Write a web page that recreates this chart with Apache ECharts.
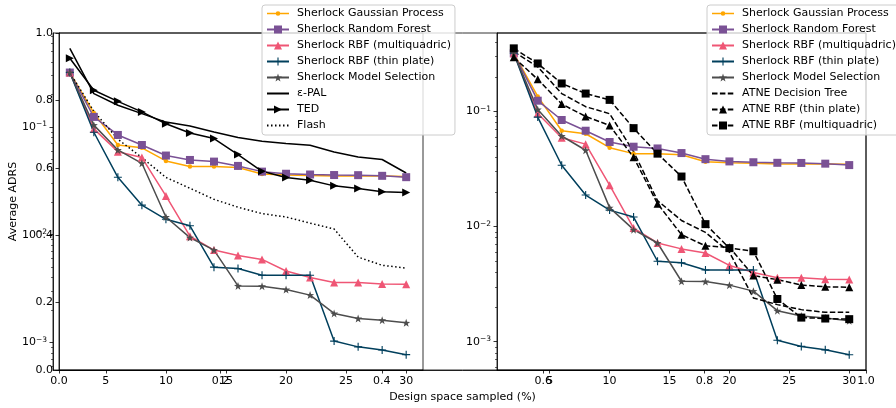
<!DOCTYPE html>
<html>
<head>
<meta charset="utf-8">
<script src="https://cdn.jsdelivr.net/npm/echarts@6/dist/echarts.min.js"></script>
<style>
  html, body { margin: 0; padding: 0; background: #fff; }
  #chart { width: 896px; height: 408px; }
</style>
</head>
<body>
<div id="chart"></div>
<script>
// design space sampled (%)
const xs = [2, 4, 6, 8, 10, 12, 14, 16, 18, 20, 22, 24, 26, 28, 30];

// Sherlock variants (same in both panels)
const gpVals    = [0.32, 0.135, 0.068, 0.064, 0.0484, 0.043, 0.043, 0.042, 0.0366, 0.0358, 0.0354, 0.035, 0.035, 0.035, 0.0347];
const rfVals    = [0.32, 0.124, 0.0843, 0.068, 0.0543, 0.0494, 0.0477, 0.0435, 0.0385, 0.0368, 0.0362, 0.0358, 0.0357, 0.0352, 0.0342];
const multiVals = [0.32, 0.096, 0.059, 0.052, 0.0229, 0.0097, 0.0072, 0.0064, 0.0059, 0.0046, 0.0040, 0.0036, 0.0036, 0.00348, 0.00347];
const thinVals  = [0.32, 0.0893, 0.0341, 0.0188, 0.0139, 0.0121, 0.0050, 0.00485, 0.0042, 0.0042, 0.0042, 0.00103, 0.00091, 0.00085, 0.00077];
const msVals    = [0.32, 0.104, 0.0612, 0.046, 0.0146, 0.0094, 0.0072, 0.00335, 0.00333, 0.0031, 0.00275, 0.00186, 0.00167, 0.00161, 0.00152];

// left panel baselines
const palVals   = [0.537, 0.204, 0.159, 0.133, 0.111, 0.102, 0.09, 0.0797, 0.0736, 0.0701, 0.0676, 0.0586, 0.0527, 0.0499, 0.0374];
const tedVals   = [0.434, 0.219, 0.173, 0.138, 0.107, 0.088, 0.078, 0.0555, 0.0388, 0.0339, 0.032, 0.0284, 0.0268, 0.025, 0.0246];
const flashVals = [0.32, 0.14, 0.077, 0.052, 0.034, 0.027, 0.0213, 0.018, 0.0157, 0.0146, 0.0128, 0.0113, 0.0062, 0.0052, 0.0049];

// right panel baselines
const dtVals        = [0.33, 0.244, 0.143, 0.11, 0.0955, 0.0447, 0.0168, 0.0113, 0.0089, 0.006, 0.0024, 0.0021, 0.0019, 0.0018, 0.0018];
const atneThinVals  = [0.295, 0.19, 0.116, 0.0905, 0.0756, 0.04, 0.0158, 0.0085, 0.0068, 0.0066, 0.00375, 0.00346, 0.00311, 0.003, 0.00297];
const atneMultiVals = [0.353, 0.261, 0.175, 0.143, 0.126, 0.0716, 0.043, 0.0272, 0.0105, 0.0065, 0.0061, 0.00235, 0.00162, 0.00159, 0.00157];

// tick labels
const xTicks = [5, 10, 15, 20, 25, 30];
const logTicks = [0.001, 0.01, 0.1];

const FONT = 'DejaVu Sans';
const FS = 11;
const PLUS = 'path://M4.3,0H5.7V4.3H10V5.7H5.7V10H4.3V5.7H0V4.3H4.3Z';
const STAR = 'path://M5,0L6.18,3.38L9.76,3.45L6.9,5.62L7.94,9.05L5,7L2.06,9.05L3.1,5.62L0.24,3.45L3.82,3.38Z';
// legend handle for the small-dot series: line with a little dot (box 22 x 10)
const DOT_HANDLE = 'path://M0,0M22,10M0,4.3H22V5.7H0Z M13.3,5A2.3,2.3,0,1,1,8.7,5A2.3,2.3,0,1,1,13.3,5Z';

// minor ticks of the log axes (2..9 x 10^n)
const minorTicks = [];
for (let e = -4; e <= 0; e++) {
    for (let k = 2; k <= 9; k++) minorTicks.push(k * Math.pow(10, e));
}

const styles = {
    'Sherlock Gaussian Process':     { color: '#ffa600', symbol: 'circle', size: 4.5, icon: DOT_HANDLE },
    'Sherlock Random Forest':        { color: '#7a5195', symbol: 'rect', size: 8 },
    'Sherlock RBF (multiquadric)':   { color: '#ef5675', symbol: 'triangle', size: 8 },
    'Sherlock RBF (thin plate)':     { color: '#003f5c', symbol: PLUS, size: 8 },
    'Sherlock Model Selection':      { color: '#4d4d4d', symbol: STAR, size: 8 },
    'ε-PAL':                         { color: '#000', symbol: 'none' },
    'TED':                           { color: '#000', symbol: 'triangle', size: 8, rotate: -90 },
    'Flash':                         { color: '#000', symbol: 'none', dash: [1.5, 2.5] },
    'ATNE Decision Tree':            { color: '#000', symbol: 'none', dash: [5.5, 2.4] },
    'ATNE RBF (thin plate)':         { color: '#000', symbol: 'triangle', size: 8, dash: [5.5, 2.4] },
    'ATNE RBF (multiquadric)':       { color: '#000', symbol: 'rect', size: 8, dash: [5.5, 2.4] }
};

function line(name, vals, panel) {
    const s = styles[name];
    return {
        type: 'line',
        name: name,
        xAxisIndex: panel === 0 ? 1 : 2,
        yAxisIndex: panel === 0 ? 1 : 3,
        data: xs.map((x, i) => [x, vals[i]]),
        symbol: s.symbol,
        symbolSize: s.size || 0,
        symbolRotate: s.rotate || 0,
        showSymbol: s.symbol !== 'none',
        lineStyle: { color: s.color, width: 1.5, type: s.dash || 'solid' },
        itemStyle: { color: s.color },
        emphasis: { disabled: true },
        animation: false,
        clip: true
    };
}

const leftNames = ['Sherlock Gaussian Process', 'Sherlock Random Forest', 'Sherlock RBF (multiquadric)',
    'Sherlock RBF (thin plate)', 'Sherlock Model Selection', 'ε-PAL', 'TED', 'Flash'];
const rightNames = ['Sherlock Gaussian Process', 'Sherlock Random Forest', 'Sherlock RBF (multiquadric)',
    'Sherlock RBF (thin plate)', 'Sherlock Model Selection', 'ATNE Decision Tree', 'ATNE RBF (thin plate)',
    'ATNE RBF (multiquadric)'];

function legendData(names) {
    return names.map(n => {
        const s = styles[n];
        if (s.icon) return { name: n, icon: s.icon };
        if (s.symbol === 'none') return { name: n, itemStyle: { opacity: 0 } };
        return { name: n };
    });
}

function legend(left, names) {
    return {
        left: left, top: 5, orient: 'vertical',
        data: legendData(names),
        selectedMode: false,
        backgroundColor: 'rgba(255,255,255,0.8)',
        borderColor: '#cccccc', borderWidth: 1, borderRadius: 3,
        padding: [2, 4, 3, 4],
        itemWidth: 22, itemHeight: 10, itemGap: 3,
        textStyle: { fontFamily: FONT, fontSize: FS, color: '#000', lineHeight: 13, padding: [0, 0, 0, 3] }
    };
}

const tickLine = { color: '#000', width: 0.8 };

function logLabel(v) {
    const e = Math.round(Math.log10(v));
    return '{b|10}{s|−' + Math.abs(e) + '}';
}

function logAxes(grid, min, max) {
    return [{
        type: 'log', gridIndex: grid, min: min, max: max, position: 'left',
        axisLine: { show: true, onZero: false, lineStyle: tickLine },
        axisTick: { show: true, length: 3.5, lineStyle: tickLine, customValues: logTicks },
        axisLabel: {
            customValues: logTicks, formatter: logLabel, margin: 6,
            rich: {
                b: { fontFamily: FONT, fontSize: FS, color: '#000', lineHeight: 13 },
                s: { fontFamily: FONT, fontSize: 7.5, color: '#000', lineHeight: 8, verticalAlign: 'top' }
            }
        },
        splitLine: { show: false }
    }, {
        type: 'log', gridIndex: grid, min: min, max: max, position: 'left', offset: 0,
        axisLine: { show: false, onZero: false },
        axisTick: { show: true, length: 2, lineStyle: { color: '#000', width: 0.6 }, customValues: minorTicks },
        axisLabel: { show: false },
        splitLine: { show: false }
    }];
}

function panelX(grid) {
    return {
        type: 'value', gridIndex: grid, min: 0.6, max: 31.4,
        axisLine: { show: true, onZero: false, lineStyle: tickLine },
        axisTick: { show: true, length: 3.5, lineStyle: tickLine, customValues: xTicks },
        axisLabel: { customValues: xTicks, margin: 6, fontFamily: FONT, fontSize: FS, color: '#000' },
        splitLine: { show: false }
    };
}

const chart = echarts.init(document.getElementById('chart'), null, { renderer: 'canvas' });

const option = {
    animation: false,
    backgroundColor: '#fff',
    textStyle: { fontFamily: FONT },
    grid: [
        { left: 53, top: 33, width: 813, height: 337, show: true, borderColor: '#000', borderWidth: 0.8, backgroundColor: 'transparent' },
        { left: 53, top: 33, width: 370, height: 337, show: true, borderColor: '#000', borderWidth: 0.8, backgroundColor: 'transparent' },
        { left: 497, top: 33, width: 369, height: 337, show: true, borderColor: '#000', borderWidth: 0.8, backgroundColor: 'transparent' }
    ],
    xAxis: [
        {
            type: 'value', gridIndex: 0, min: 0, max: 1, interval: 0.2,
            name: 'Design space sampled (%)', nameLocation: 'middle', nameGap: 21,
            nameTextStyle: { fontFamily: FONT, fontSize: FS, color: '#000' },
            axisLine: { show: true, onZero: false, lineStyle: tickLine },
            axisTick: { show: true, length: 3.5, lineStyle: tickLine },
            axisLabel: { margin: 6, fontFamily: FONT, fontSize: FS, color: '#000', formatter: v => v.toFixed(1) },
            splitLine: { show: false }
        },
        panelX(1),
        panelX(2)
    ],
    yAxis: [
        {
            type: 'value', gridIndex: 0, min: 0, max: 1, interval: 0.2,
            name: 'Average ADRS', nameLocation: 'middle', nameGap: 40,
            nameTextStyle: { fontFamily: FONT, fontSize: FS, color: '#000' },
            axisLine: { show: true, onZero: false, lineStyle: tickLine },
            axisTick: { show: true, length: 3.5, lineStyle: tickLine },
            axisLabel: { margin: 6, fontFamily: FONT, fontSize: FS, color: '#000', formatter: v => v.toFixed(1) },
            splitLine: { show: false }
        },
        ...logAxes(1, 5.55e-4, 0.745),
        ...logAxes(2, 5.68e-4, 0.48)
    ],
    legend: [legend(262, leftNames), legend(707, rightNames)],
    series: [
        line('Sherlock Gaussian Process', gpVals, 0),
        line('Sherlock Random Forest', rfVals, 0),
        line('Sherlock RBF (multiquadric)', multiVals, 0),
        line('Sherlock RBF (thin plate)', thinVals, 0),
        line('Sherlock Model Selection', msVals, 0),
        line('ε-PAL', palVals, 0),
        line('TED', tedVals, 0),
        line('Flash', flashVals, 0),
        line('Sherlock Gaussian Process', gpVals, 1),
        line('Sherlock Random Forest', rfVals, 1),
        line('Sherlock RBF (multiquadric)', multiVals, 1),
        line('Sherlock RBF (thin plate)', thinVals, 1),
        line('Sherlock Model Selection', msVals, 1),
        line('ATNE Decision Tree', dtVals, 1),
        line('ATNE RBF (thin plate)', atneThinVals, 1),
        line('ATNE RBF (multiquadric)', atneMultiVals, 1)
    ]
};

chart.setOption(option);
</script>
</body>
</html>
